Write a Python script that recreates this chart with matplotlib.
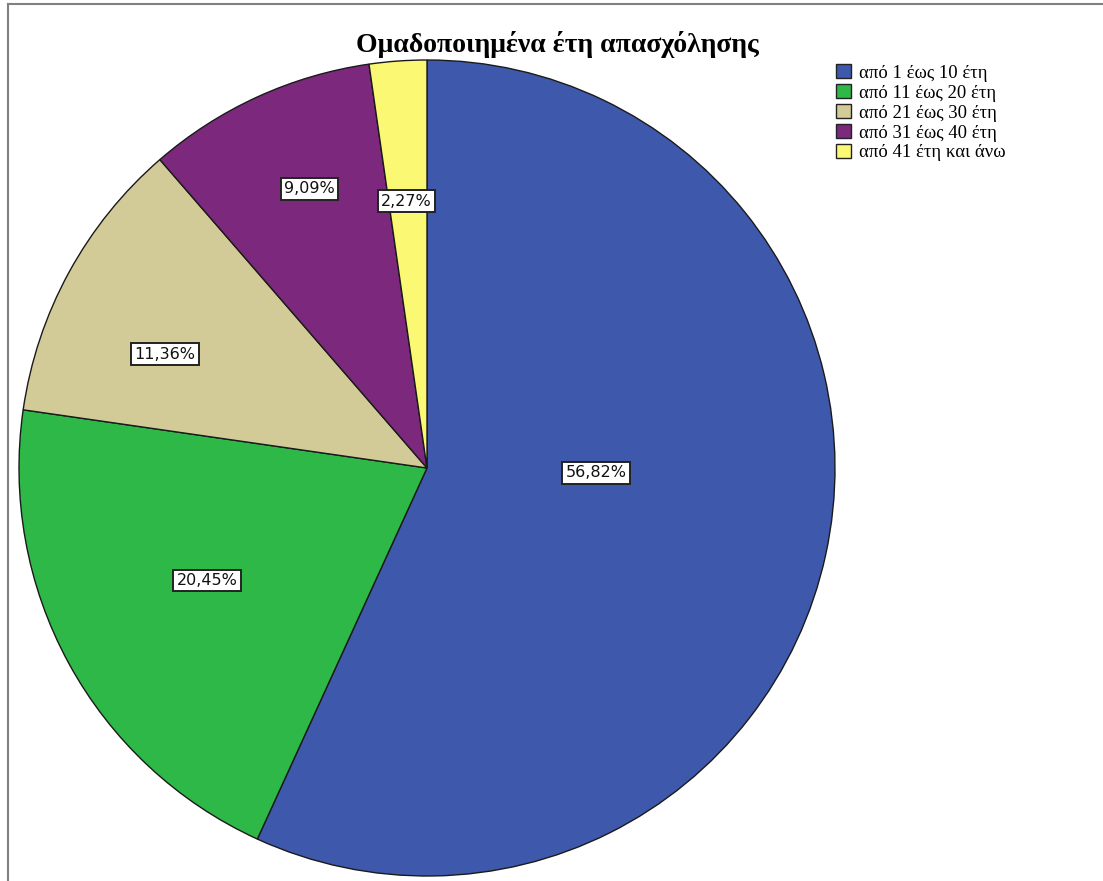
import matplotlib
matplotlib.use("Agg")
import matplotlib.pyplot as plt
from matplotlib.lines import Line2D
from matplotlib.patches import Patch
import numpy as np

title = "Ομαδοποιημένα έτη απασχόλησης"
categories = ["από 1 έως 10 έτη", "από 11 έως 20 έτη", "από 21 έως 30 έτη",
              "από 31 έως 40 έτη", "από 41 έτη και άνω"]
percents = [56.82, 20.45, 11.36, 9.09, 2.27]
colors = ["#3E58AC", "#2EB848", "#D3CB97", "#7B287D", "#FBF873"]

# label positions in pie units (radius = 1), as SPSS put them
label_pos = [(0.414, -0.012), (-0.539, -0.275), (-0.642, 0.279),
             (-0.289, 0.684), (-0.051, 0.654)]

W, H = 1103, 881
fig = plt.figure(figsize=(W / 100, H / 100), dpi=100)
fig.patch.set_facecolor("white")

cx, cy, r = 427, 468, 408
ax = fig.add_axes([(cx - r) / W, (H - cy - r) / H, 2 * r / W, 2 * r / H])
ax.pie(percents, colors=colors, startangle=90, counterclock=False,
       wedgeprops=dict(edgecolor="#1a1a1a", linewidth=1.0))
ax.set_xlim(-1, 1)
ax.set_ylim(-1, 1)
ax.set_aspect("equal")
ax.axis("off")

for p, (x, y) in zip(percents, label_pos):
    txt = ("%.2f%%" % p).replace(".", ",")
    ax.text(x, y, txt, ha="center", va="center", fontsize=11.5,
            family="DejaVu Sans", color="#111111",
            bbox=dict(boxstyle="square,pad=0.2", fc="white", ec="#222222", lw=1.4))

fig.text(557 / W, 1 - 45 / H, title, ha="center", va="center",
         fontsize=20, fontweight="bold", family="Liberation Serif")

handles = [Patch(facecolor=c, edgecolor="#222222", linewidth=1.0) for c in colors]
fig.legend(handles, categories, loc="upper left", bbox_to_anchor=(836 / W, 1 - 64 / H),
           frameon=False, prop=dict(family="Liberation Serif", size=13.5),
           handlelength=0.8, handleheight=0.8, handletextpad=0.45,
           labelspacing=0.12, borderaxespad=0, borderpad=0)

# grey frame at top and left as in the exported picture
fig.add_artist(Line2D([8 / W, 8 / W], [0, 1 - 4 / H], color="#808080", lw=1.5,
                      transform=fig.transFigure))
fig.add_artist(Line2D([8 / W, 1], [1 - 4 / H, 1 - 4 / H], color="#808080", lw=1.5,
                      transform=fig.transFigure))

fig.savefig("out.png", dpi=100)
